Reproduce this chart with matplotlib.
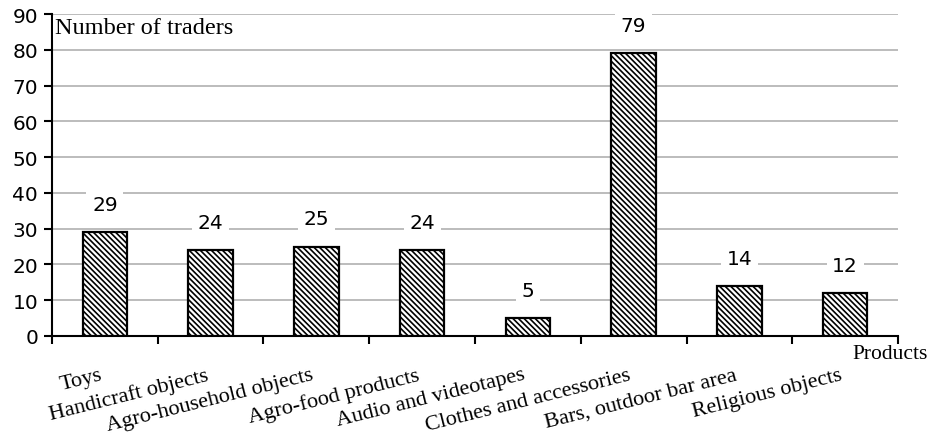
import matplotlib
matplotlib.use("Agg")
import matplotlib.pyplot as plt
import numpy as np

categories = ["Toys", "Handicraft objects", "Agro-household objects", "Agro-food products",
              "Audio and videotapes", "Clothes and accessories", "Bars, outdoor bar area",
              "Religious objects"]
values = [29, 24, 25, 24, 5, 79, 14, 12]
yticks = [0, 10, 20, 30, 40, 50, 60, 70, 80, 90]

plt.rcParams['hatch.linewidth'] = 1.2
fig = plt.figure(figsize=(9.33, 4.35), dpi=100)
ax = fig.add_axes([0.0557, 0.2253, 0.9068, 0.7402])

x = np.arange(len(categories))
ax.bar(x, values, width=0.42, color='white', edgecolor='black', linewidth=1.6,
       hatch='\\' * 6, zorder=3)

for xi, v in zip(x, values):
    ax.annotate(str(v), (xi, v), xytext=(0, 20), textcoords='offset points',
                ha='center', va='center', fontsize=14.5, family='DejaVu Sans',
                bbox=dict(facecolor='white', edgecolor='none', pad=4), zorder=4)

ax.set_xlim(-0.5, len(categories) - 0.5)
ax.set_ylim(0, 90)
ax.set_yticks(yticks)
ax.set_yticklabels([str(t) for t in yticks], fontsize=14.5, family='DejaVu Sans')
ax.yaxis.grid(True, color='#b0b0b0', linewidth=1.2, zorder=0)
ax.set_axisbelow(True)

ax.set_xticks(np.arange(len(categories) + 1) - 0.5)
ax.set_xticklabels([])
ax.tick_params(axis='x', direction='out', length=6, width=1.5, color='black')
ax.tick_params(axis='y', direction='out', length=6, width=1.5, color='black', pad=4)

for xi, c in zip(x, categories):
    ax.text(xi - 0.05, -0.09, c, transform=ax.get_xaxis_transform(), rotation=14,
            rotation_mode='anchor', ha='right', va='top', fontsize=16,
            family='Liberation Serif')

for s in ['top', 'right']:
    ax.spines[s].set_visible(False)
for s in ['left', 'bottom']:
    ax.spines[s].set_linewidth(1.5)

ax.text(0.003, 0.99, "Number of traders", transform=ax.transAxes, ha='left', va='top',
        fontsize=17.5, family='Liberation Serif',
        bbox=dict(facecolor='white', edgecolor='none', pad=1), zorder=5)
ax.text(1.035, -0.025, "Products", transform=ax.transAxes, ha='right', va='top',
        fontsize=15.5, family='Liberation Serif', clip_on=False)

fig.savefig("out.png", dpi=100)
